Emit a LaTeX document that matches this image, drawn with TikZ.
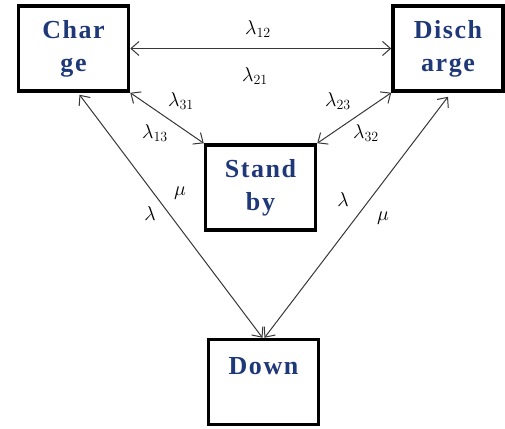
\RequirePackage{fix-cm}
\documentclass[tikz,border=0pt]{standalone}
\usepackage{fontspec}
\setmainfont{Liberation Serif}
\usetikzlibrary{arrows.meta}
\definecolor{navy}{RGB}{31,56,120}
\definecolor{linegray}{RGB}{55,55,55}
\tikzset{
  statebox/.style={draw=black, line width=3.5pt, minimum width=110pt, minimum height=85pt,
    inner sep=0pt, align=center, text=navy, font=\fontsize{26}{33}\selectfont\bfseries\addfontfeature{LetterSpace=6}},
  conn/.style={draw=linegray, line width=1pt, {Straight Barb[length=8pt,width=14pt]}-{Straight Barb[length=8pt,width=14pt]}},
  lab/.style={inner sep=0pt, font=\fontsize{20}{22}\selectfont}
}
\begin{document}
\begin{tikzpicture}[x=1pt,y=-1pt]
\useasboundingbox (0,0) rectangle (505,428);
\node[statebox] (C) at (73.5,48.5) {Char\\ge};
\node[statebox] (D) at (448,48.5) {Disch\\arge};
\node[statebox] (S) at (260.5,187.5) {Stand\\by};
\node[statebox] (W) at (263.5,382) {Down\\\mbox{}};
\draw[conn] (C.east) -- (D.west);
\draw[conn] (C.south east) -- (S.north west);
\draw[conn] (D.south west) -- (S.north east);
\draw[conn] ([xshift=6pt,yshift=-2pt]C.south) -- ([xshift=-1pt]W.north);
\draw[conn] ([yshift=-4pt]D.south) -- ([xshift=1pt]W.north);
\node[lab] (l12) at (258,29) {$\lambda_{12}$};
\node[lab] (l21) at (255,76) {$\lambda_{21}$};
\node[lab] (l31) at (181,101) {$\lambda_{31}$};
\node[lab] (l13) at (155,133) {$\lambda_{13}$};
\node[lab] (l23) at (338,101) {$\lambda_{23}$};
\node[lab] (l32) at (366,133) {$\lambda_{32}$};
\node[lab] (mu1) at (180,193) {$\mu$};
\node[lab] (la1) at (150,214) {$\lambda$};
\node[lab] (la2) at (343,200) {$\lambda$};
\node[lab] (mu2) at (383,218) {$\mu$};
\end{tikzpicture}
\end{document}
